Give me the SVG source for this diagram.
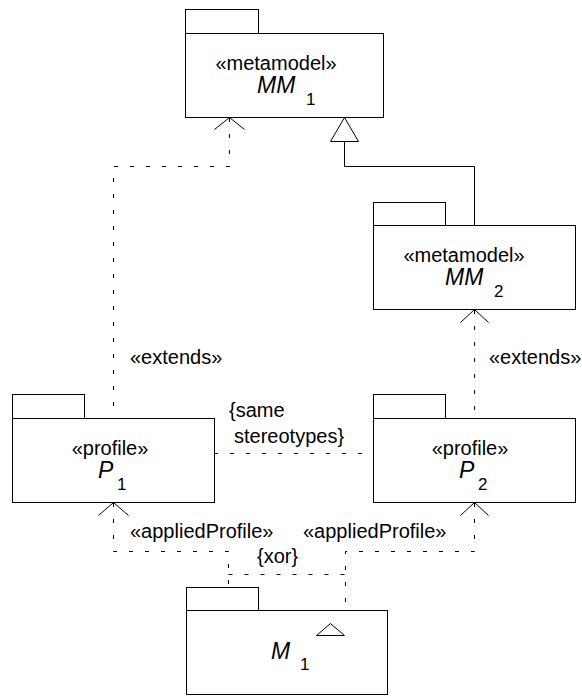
<svg xmlns="http://www.w3.org/2000/svg" width="582" height="696" viewBox="0 0 582 696">
<style>
.box{fill:#fff;stroke:#000;stroke-width:1}
.dash{fill:none;stroke:#000;stroke-width:1;stroke-dasharray:4 12}
.solid{fill:none;stroke:#000;stroke-width:1}
.head{fill:none;stroke:#000;stroke-width:1}
.tri{fill:#fff;stroke:#000;stroke-width:1}
text{font-family:"Liberation Sans",Arial,sans-serif;fill:#000}
.st{font-size:20px}
.nm{font-size:23px;font-style:italic}
.sb{font-size:17px}
.lb{font-size:20px}
</style>
<g id="connectors">
<path class="dash" d="M229.5,118 V166.5 H113.5 V418"/>
<path class="head" d="M214.5,129.5 L229.5,117.5 L244.5,129.5"/>
<path class="solid" d="M344.5,141 V166.5 H474.5 V225"/>
<path class="tri" d="M344.5,117.5 L330.5,141.5 L358.5,141.5 Z"/>
<path class="dash" d="M474.5,310 V418"/>
<path class="head" d="M460.5,322.5 L474.5,309.5 L488.5,322.5"/>
<path class="dash" d="M214,453.5 H373"/>
<path class="dash" d="M113.5,503 V551.5 H228.5 V587"/>
<path class="head" d="M98.5,515.5 L113.5,502.5 L128.5,515.5"/>
<path class="dash" d="M474.5,503 V551.5 H345.5 V610"/>
<path class="head" d="M460.5,515.5 L474.5,502.5 L488.5,515.5"/>
<path class="dash" d="M228.5,574.5 H345.5"/>
<text class="lb" x="130" y="364">«extends»</text>
<text class="lb" x="489" y="364">«extends»</text>
<text class="lb" x="229" y="417">{same</text>
<text class="lb" x="234" y="443">stereotypes}</text>
<text class="lb" x="130" y="538">«appliedProfile»</text>
<text class="lb" x="303" y="538">«appliedProfile»</text>
<text class="lb" x="257" y="563">{xor}</text>
</g>
<g id="MM1">
<rect class="box" x="185.5" y="9.5" width="73" height="24"/>
<rect class="box" x="185.5" y="33.5" width="198" height="84"/>
<text class="st" x="276" y="70" text-anchor="middle">«metamodel»</text>
<text class="nm" x="257" y="93">MM</text>
<text class="sb" x="306" y="105">1</text>
</g>
<g id="MM2">
<rect class="box" x="373.5" y="202.5" width="72" height="23"/>
<rect class="box" x="373.5" y="225.5" width="202" height="84"/>
<text class="st" x="464" y="262" text-anchor="middle">«metamodel»</text>
<text class="nm" x="445" y="285">MM</text>
<text class="sb" x="494" y="297">2</text>
</g>
<g id="P1">
<rect class="box" x="12.5" y="394.5" width="72" height="24"/>
<rect class="box" x="12.5" y="418.5" width="202" height="84"/>
<text class="st" x="110" y="455" text-anchor="middle">«profile»</text>
<text class="nm" x="98" y="478">P</text>
<text class="sb" x="117" y="490">1</text>
</g>
<g id="P2">
<rect class="box" x="373.5" y="394.5" width="72" height="24"/>
<rect class="box" x="373.5" y="418.5" width="202" height="84"/>
<text class="st" x="470" y="455" text-anchor="middle">«profile»</text>
<text class="nm" x="459" y="478">P</text>
<text class="sb" x="478" y="490">2</text>
</g>
<g id="M1">
<rect class="box" x="186.5" y="587.5" width="72" height="23"/>
<rect class="box" x="186.5" y="610.5" width="201" height="84"/>
<path class="tri" d="M330.5,623.5 L316.5,635.5 L344.5,635.5 Z"/>
<text class="nm" x="271" y="659">M</text>
<text class="sb" x="300" y="670">1</text>
</g>
</svg>
